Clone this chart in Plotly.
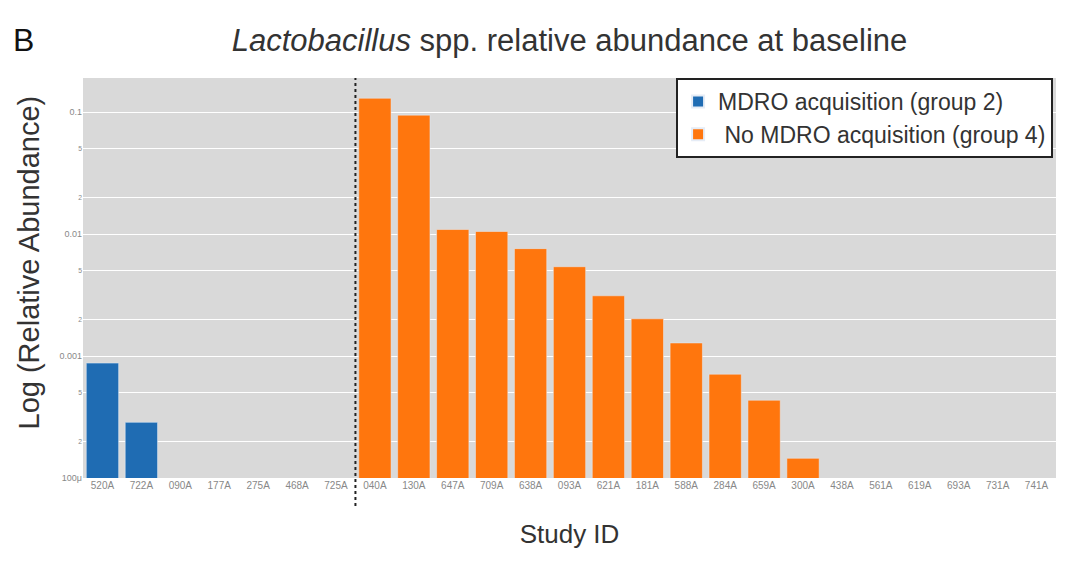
import plotly.graph_objects as go

# Study IDs per group
group2_ids = ["520A", "722A", "090A", "177A", "275A", "468A", "725A"]
group4_ids = ["040A", "130A", "647A", "709A", "638A", "093A", "621A", "181A",
              "588A", "284A", "659A", "300A", "438A", "561A", "619A", "693A",
              "731A", "741A"]

# Relative abundance of Lactobacillus spp. at baseline (None = not detected)
group2_vals = [0.000875, 0.000286, None, None, None, None, None]
group4_vals = [0.130, 0.0945, 0.0109, 0.0105, 0.0076, 0.0054, 0.00312, 0.00202,
               0.00128, 0.00071, 0.000434, 0.000145, None, None, None, None,
               None, None]

all_ids = group2_ids + group4_ids

fig = go.Figure()
fig.add_trace(go.Bar(
    x=group2_ids, y=group2_vals, name="MDRO acquisition (group 2)",
    marker=dict(color="#1f6cb3"),
))
fig.add_trace(go.Bar(
    x=group4_ids, y=group4_vals, name=" No MDRO acquisition (group 4)",
    marker=dict(color="#ff760d"),
))

# Dotted separator between the two groups
fig.add_shape(
    type="line", xref="x", yref="paper",
    x0=len(group2_ids) - 0.5, x1=len(group2_ids) - 0.5,
    y0=-0.07, y1=1.0,
    line=dict(color="#222222", width=2, dash="dot"),
)

# Panel letter
fig.add_annotation(
    text="B", xref="paper", yref="paper", x=-0.074, y=1.095,
    xanchor="left", yanchor="middle", showarrow=False,
    font=dict(size=32, color="#111111", family="Liberation Sans, Arial"),
)

# Y-axis title as a rotated annotation
fig.add_annotation(
    text="Log (Relative Abundance)", xref="paper", yref="paper",
    x=-0.055, y=0.54, xanchor="center", yanchor="middle",
    textangle=-90, showarrow=False,
    font=dict(size=29, color="#333333"),
)

fig.update_layout(
    width=1078, height=570,
    margin=dict(l=83, r=22, t=78, b=92),
    paper_bgcolor="white",
    plot_bgcolor="#d9d9d9",
    barmode="overlay",
    bargap=0.17,
    font=dict(family="Liberation Sans, Arial", color="#333333"),
    title=dict(
        text="<i>Lactobacillus</i> spp. relative abundance at baseline",
        x=0.5, xref="paper", xanchor="center",
        y=0.93, yref="container", yanchor="middle",
        font=dict(size=31, color="#333333"),
    ),
    legend=dict(
        x=0.997, y=1.0, xanchor="right", yanchor="top",
        bgcolor="white", bordercolor="#222222", borderwidth=2,
        font=dict(size=23, color="#333333"),
        itemsizing="constant",
    ),
    xaxis=dict(
        type="category", categoryorder="array", categoryarray=all_ids,
        showgrid=False, zeroline=False,
        tickfont=dict(size=10, color="#888888"),
        title=dict(text="Study ID", font=dict(size=26, color="#333333"), standoff=34),
    ),
    yaxis=dict(
        type="log", range=[-4, -0.72], dtick="D2",
        gridcolor="white", gridwidth=1, zeroline=False,
        tickfont=dict(size=9, color="#888888"),
    ),
)

fig.write_html("out.html")
